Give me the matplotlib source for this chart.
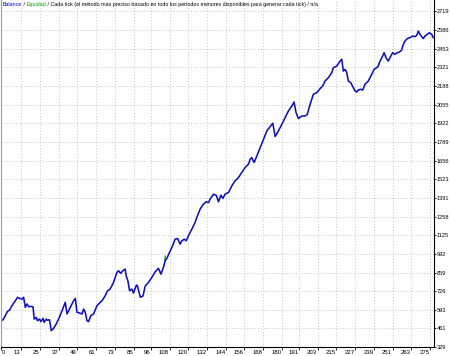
import matplotlib
matplotlib.use("Agg")
import matplotlib.pyplot as plt
from matplotlib.transforms import offset_copy

# balance curve (trade number, balance)
trade = [0, 1.3, 2.75, 4.2, 5.5, 7.0, 9.2, 10.6, 11.9, 13.4,
         14.5, 15.6, 16.7, 17.7, 18.8, 20.5, 21.3, 22.6, 23.4, 24.7,
         25.6, 26.9, 27.7, 29.0, 29.8, 31.1, 32.2, 33.7, 35.4, 36.9,
         39.1, 41.2, 42.3, 44.4, 46.5, 47.6, 48.7, 50.3, 51.9, 52.9,
         54.0, 55.1, 56.1, 57.6, 59.3, 61.5, 63.6, 64.7, 66.8, 68.3,
         70.0, 72.1, 74.3, 75.3, 76.8, 78.1, 79.6, 80.2, 81.3, 82.4,
         83.9, 84.9, 86.6, 87.3, 89.3, 91.0, 92.4, 94.5, 96.7, 98.8,
         100.9, 102.5, 104.1, 105.2, 106.3, 108.0, 109.5, 111.6, 113.2, 114.8,
         115.9, 117.4, 118.7, 120.1, 122.3, 124.4, 125.5, 127.6, 129.7, 131.5,
         133.0, 134.0, 136.2, 137.9, 139.4, 140.9, 142.2, 143.6, 145.8, 147.9,
         150.0, 152.2, 154.3, 156.5, 158.6, 159.7, 160.7, 162.2, 164.0, 166.1,
         168.2, 170.4, 172.5, 174.2, 175.7, 177.8, 180.0, 182.1, 184.2, 186.4,
         187.8, 189.1, 190.6, 192.8, 194.9, 196.3, 198.1, 200.2, 202.4, 204.5,
         206.2, 207.7, 209.8, 212.0, 213.0, 215.2, 217.3, 218.4, 219.4, 220.5,
         221.6, 222.6, 224.1, 225.8, 226.9, 228.0, 229.0, 230.5, 231.8, 233.3,
         235.4, 237.6, 239.1, 240.8, 241.8, 242.9, 244.6, 245.5, 246.7, 248.2,
         249.3, 251.0, 252.5, 253.8, 255.3, 256.8, 257.4, 258.9, 260.4, 262.1,
         263.9, 265.3, 266.4, 267.5, 268.5, 269.6, 270.6, 271.7, 273.2, 274.5,
         276.0, 277.0]
balance = [516, 523, 552, 583, 592, 623, 658, 683, 675, 670,
           683, 611, 635, 616, 618, 616, 528, 540, 516, 528,
           509, 533, 505, 528, 519, 523, 445, 462, 493, 528,
           587, 647, 564, 611, 658, 675, 576, 571, 564, 599,
           576, 516, 509, 552, 564, 623, 647, 658, 694, 729,
           742, 789, 860, 872, 853, 872, 884, 836, 801, 729,
           742, 713, 765, 770, 683, 692, 763, 789, 825, 865,
           889, 848, 896, 943, 960, 1003, 1038, 1097, 1101, 1062,
           1085, 1097, 1085, 1121, 1168, 1216, 1252, 1311, 1346, 1363,
           1358, 1382, 1417, 1410, 1363, 1410, 1387, 1417, 1429, 1476,
           1512, 1536, 1572, 1607, 1631, 1666, 1678, 1643, 1690, 1749,
           1809, 1868, 1899, 1922, 1828, 1868, 1915, 1963, 2010, 2045,
           2074, 1998, 1956, 1974, 1974, 1986, 2057, 2129, 2141, 2169,
           2188, 2223, 2247, 2283, 2318, 2330, 2365, 2378, 2294, 2306,
           2283, 2223, 2212, 2176, 2152, 2145, 2159, 2164, 2159, 2200,
           2223, 2271, 2306, 2318, 2330, 2365, 2401, 2425, 2390, 2365,
           2390, 2425, 2413, 2424, 2429, 2444, 2472, 2508, 2525, 2532,
           2543, 2539, 2548, 2579, 2555, 2539, 2525, 2543, 2555, 2567,
           2555, 2532]

# equity only shows as a tiny blip, the rest is under the balance line
eq_trade = [105.0, 105.3]
equity = [945, 975]

xticks = [0, 13, 25, 37, 49, 61, 73, 85, 96, 108, 120, 132, 144, 156,
          168, 180, 191, 203, 215, 227, 239, 251, 263, 275]
yticks = [329, 461, 593, 726, 859, 992, 1125, 1258, 1391, 1523, 1656,
          1789, 1922, 2055, 2188, 2321, 2453, 2586, 2719]

title_parts = [("Balance", "#0000c8"), (" / ", "#000000"),
               ("Equidad", "#00a000"),
               (" / Cada tick (el método más preciso basado en todo los períodos menores "
                "disponibles para generar cada tick) / n/a", "#000000")]

FONT = "Liberation Sans"

fig = plt.figure(figsize=(4.5, 3.56), dpi=100)
fig.patch.set_facecolor("white")
ax = fig.add_axes([1 / 450, 9 / 356, 433 / 450, 347 / 356])

ax.plot(eq_trade, equity, color="#00b000", lw=1.0)
ax.plot(trade, balance, color="#1010c0", lw=1.15)

ax.set_xlim(0, 277.5)
ax.set_ylim(329, 2800)

ax.set_xticks(xticks)
ax.set_xticklabels([])
ax.set_yticks(yticks)
ax.set_yticklabels([str(t) for t in yticks])
ax.yaxis.tick_right()
ax.tick_params(axis="x", length=2, width=0.6)
ax.tick_params(axis="y", length=1.5, width=0.6, pad=0.6, labelsize=4.1, colors="#000000")
for lab in ax.get_yticklabels():
    lab.set_family(FONT)

# x labels sit just left of their tick, as the tester draws them
xtrans = ax.get_xaxis_transform()
for i, t in enumerate(xticks):
    if i == 0:
        tr = offset_copy(xtrans, fig=fig, x=1.0, y=-3.2, units="dots")
        ha = "left"
    else:
        tr = offset_copy(xtrans, fig=fig, x=-0.5, y=-3.2, units="dots")
        ha = "right"
    ax.text(t, 0, str(t), transform=tr, ha=ha, va="top", fontsize=4.3,
            family=FONT, color="#000000", clip_on=False)

ax.grid(True, color="#c4c4c4", linestyle=(0, (1, 2)), linewidth=0.7)

ax.spines["top"].set_visible(False)
ax.spines["left"].set_color("#a0a0a0")
ax.spines["left"].set_linewidth(0.8)
ax.spines["right"].set_linewidth(0.8)
ax.spines["bottom"].set_linewidth(0.8)

# header text drawn piece by piece so each part keeps its colour,
# then scaled so it spans the same width as in the tester window
fig.canvas.draw()
renderer = fig.canvas.get_renderer()


def draw_header(size):
    items = []
    x0 = 0.004
    for txt, col in title_parts:
        t = ax.text(x0, 0.995, txt, transform=ax.transAxes, color=col, fontsize=size,
                    family=FONT, va="top", ha="left")
        bb = t.get_window_extent(renderer)
        x0 = ax.transAxes.inverted().transform((bb.x1, bb.y0))[0]
        items.append(t)
    return items, bb.x1


items, right = draw_header(5)
start = ax.transAxes.transform((0.004, 0))[0]
for t in items:
    t.remove()
draw_header(5 * 316 / (right - start))

fig.savefig("out.png", dpi=100)
